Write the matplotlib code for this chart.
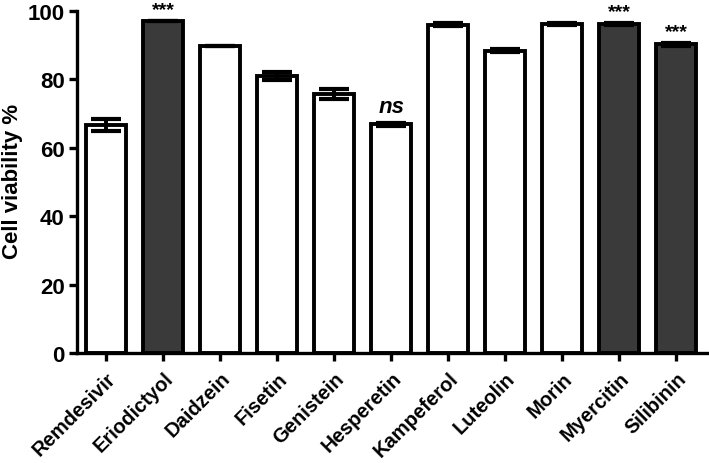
import matplotlib.pyplot as plt
import numpy as np

plt.rcParams['font.family'] = ['Liberation Sans', 'DejaVu Sans']

compounds = ['Remdesivir', 'Eriodictyol', 'Daidzein', 'Fisetin', 'Genistein', 'Hesperetin',
             'Kampeferol', 'Luteolin', 'Morin', 'Myercitin', 'Silibinin']
viability = [66.7, 97.1, 89.7, 81.0, 75.8, 66.9, 96.0, 88.4, 96.2, 96.2, 90.3]
errors = [1.8, 0.0, 0.0, 1.2, 1.5, 0.5, 0.5, 0.4, 0.4, 0.4, 0.4]
significant = [False, True, False, False, False, False, False, False, False, True, True]
annotations = ['', '***', '', '', '', 'ns', '', '', '', '***', '***']

fig = plt.figure(figsize=(7.09, 4.64), dpi=100)
ax = fig.add_axes([0.109, 0.237, 0.89, 0.737])

x = np.arange(len(compounds))
colors = ['#3a3a3a' if s else 'white' for s in significant]
ax.bar(x, viability, width=0.7, color=colors, edgecolor='black', linewidth=2.8, zorder=2)
ax.errorbar(x, viability, yerr=errors, fmt='none', ecolor='black', elinewidth=2.8,
            capsize=11, capthick=3, zorder=3)

for xi, v, e, a in zip(x, viability, errors, annotations):
    if a == '***':
        ax.text(xi, v + e + 0.8, a, ha='center', va='bottom', fontsize=14, fontweight='bold')
    elif a == 'ns':
        ax.text(xi, v + e + 1.5, a, ha='center', va='bottom', fontsize=16,
                fontweight='bold', fontstyle='italic')

ax.set_ylim(0, 100)
ax.set_xlim(-0.51, 10.56)
ax.set_yticks([0, 20, 40, 60, 80, 100])
ax.set_xticks(x)
ax.set_xticklabels(compounds, rotation=45, ha='right', rotation_mode='anchor',
                   fontsize=14.5, fontweight='bold')
for lbl in ax.get_yticklabels():
    lbl.set_fontweight('bold')
    lbl.set_fontsize(16)
ax.set_ylabel('Cell viability %', fontsize=16, fontweight='bold')
ax.yaxis.set_label_coords(-0.086, 0.506)

ax.spines['top'].set_visible(False)
ax.spines['right'].set_visible(False)
ax.spines['left'].set_linewidth(2.4)
ax.spines['bottom'].set_linewidth(2.4)
ax.tick_params(axis='both', width=2.4, length=6, direction='out', pad=3)
ax.tick_params(axis='x', pad=5)

plt.savefig('out.png', dpi=100)
